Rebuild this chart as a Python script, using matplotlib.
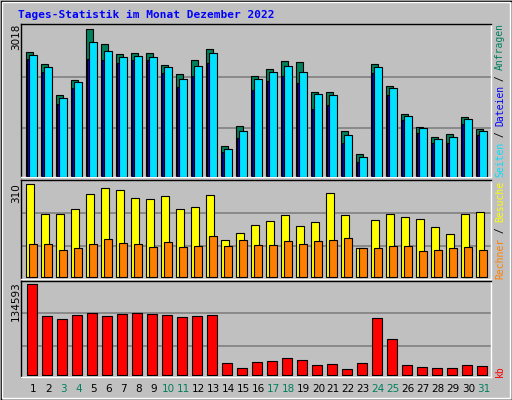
import matplotlib
matplotlib.use("Agg")
import matplotlib.pyplot as plt
import numpy as np
from matplotlib.patches import Rectangle

days = np.arange(1, 32)
weekend = [3, 4, 10, 11, 17, 18, 24, 25, 31]

# values
anfragen = [2557, 2318, 1679, 1985, 3018, 2720, 2515, 2529, 2529, 2291, 2107, 2393, 2611, 641, 1051, 2059, 2209, 2366, 2345, 1740, 1740, 935, 478, 2318, 1870, 1297, 1031, 826, 887, 1236, 990]
dateien = [2502, 2250, 1617, 1945, 2751, 2570, 2447, 2468, 2447, 2250, 1993, 2277, 2529, 580, 948, 1993, 2155, 2277, 2155, 1693, 1672, 853, 416, 2257, 1809, 1256, 1010, 778, 819, 1195, 948]
seiten = [2414, 2148, 1494, 1822, 2414, 2393, 2332, 2393, 2393, 2127, 1843, 2066, 2332, 519, 805, 1788, 1972, 2066, 1924, 1399, 1480, 703, 314, 2127, 1686, 1174, 908, 703, 703, 1092, 867]
besuche = [310, 212, 212, 226, 277, 297, 291, 264, 260, 270, 226, 233, 274, 122, 146, 173, 186, 207, 170, 183, 281, 207, 95, 190, 210, 200, 193, 166, 143, 210, 217]
rechner = [109, 109, 89, 95, 109, 126, 112, 109, 99, 116, 99, 102, 136, 102, 122, 105, 105, 119, 109, 119, 122, 129, 95, 95, 102, 102, 85, 89, 95, 99, 89]
kb = [134593, 87435, 83014, 88909, 91857, 87435, 90383, 91857, 90383, 88909, 85961, 87435, 88909, 18172, 10803, 19646, 21120, 25541, 22594, 15224, 16698, 9329, 18172, 84488, 53536, 14733, 11785, 10329, 10329, 14733, 13259]

GREEN = "#00805C"
BG = "#C0C0C0"
mono = "DejaVu Sans Mono"

fig = plt.figure(figsize=(5.12, 4.0), dpi=100, facecolor=BG)
W, H = 512, 400


def axes_px(x0, y0, x1, y1):
    return fig.add_axes([x0 / W, 1 - y1 / H, (x1 - x0) / W, (y1 - y0) / H])


def style(ax, ylo, yhi, grids):
    ax.set_facecolor(BG)
    ax.set_xlim(0.18, 31.51)
    ax.set_ylim(ylo, yhi)
    ax.set_xticks([])
    ax.set_yticks([])
    for g in grids:
        ax.axhline(g, color="#808080", lw=1.2, zorder=0)
    for s in ax.spines.values():
        s.set_color("black")
        s.set_linewidth(1)
    ax.spines["bottom"].set_color("white")
    ax.spines["right"].set_color("white")


ek = dict(edgecolor="black", linewidth=0.8, align="edge")

# top panel
ax1 = axes_px(21, 24, 491, 177)
top = 3018 * 458 / 442
style(ax1, 0, top, [top * 0.323, top * 0.655])
ax1.bar(days - 0.51, anfragen, 0.49, color=GREEN, zorder=2, **ek)
ax1.bar(days - 0.42, seiten, 0.2, color="#0000FF", zorder=3, **ek)
ax1.bar(days - 0.27, dateien, 0.51, color="#00E0FF", zorder=4, **ek)

# middle panel
ax2 = axes_px(21, 180, 491, 279)
m = 310 / 277
style(ax2, -7 * m, 290 * m, [92 * m, 190 * m])
ax2.bar(days - 0.51, besuche, 0.55, color="#FFFF00", zorder=2, **ek)
ax2.bar(days - 0.27, rechner, 0.51, color="#FF8000", zorder=3, **ek)

# bottom panel
ax3 = axes_px(21, 281, 491, 377)
k = 134593 / 274
style(ax3, -6 * k, 284 * k, [88 * k, 187 * k])
ax3.bar(days - 0.44, kb, 0.68, color="#FF0000", zorder=2, **ek)

# day labels
for d in days:
    x = 21 + (d - 0.18) / 31.33 * 470
    fig.text(x / W, 1 - 389 / H, str(d), ha="center", va="center",
             fontsize=7.5, color=GREEN if d in weekend else "black")

# max labels on the left
for txt, yc in [("3018", 37), ("310", 193), ("134593", 301)]:
    fig.text(16 / W, 1 - yc / H, txt, rotation=90, ha="center", va="center", fontsize=7.5)

# right side legends
def stacked(parts, ybottom):
    y = ybottom
    for t, c in parts:
        fig.text(500 / W, 1 - y / H, t, rotation=90, ha="center", va="bottom",
                 fontsize=7, color=c, family=mono)
        y -= len(t) * 5.65


stacked([("Seiten", "#00E0FF"), (" / ", "black"), ("Dateien", "#0000FF"),
         (" / ", "black"), ("Anfragen", GREEN)], 177)
stacked([("Rechner", "#FF8000"), (" / ", "black"), ("Besuche", "#FFFF00")], 279)
stacked([("kb", "#FF0000")], 377)

fig.text(18 / W, 1 - 15 / H, "Tages-Statistik im Monat Dezember 2022", ha="left", va="center",
         fontsize=8, color="#0000FF", family=mono, weight="bold")

# frame
fig.patches.append(Rectangle((0.5 / W, 0.5 / H), 1 - 1 / W, 1 - 1 / H, transform=fig.transFigure,
                             fill=False, edgecolor="black", lw=1))
fig.patches.append(Rectangle((2 / W, 2 / H), 1 - 4 / W, 1 - 4 / H, transform=fig.transFigure,
                             fill=False, edgecolor="white", lw=1))

fig.savefig("out.png", dpi=100, facecolor=BG)
